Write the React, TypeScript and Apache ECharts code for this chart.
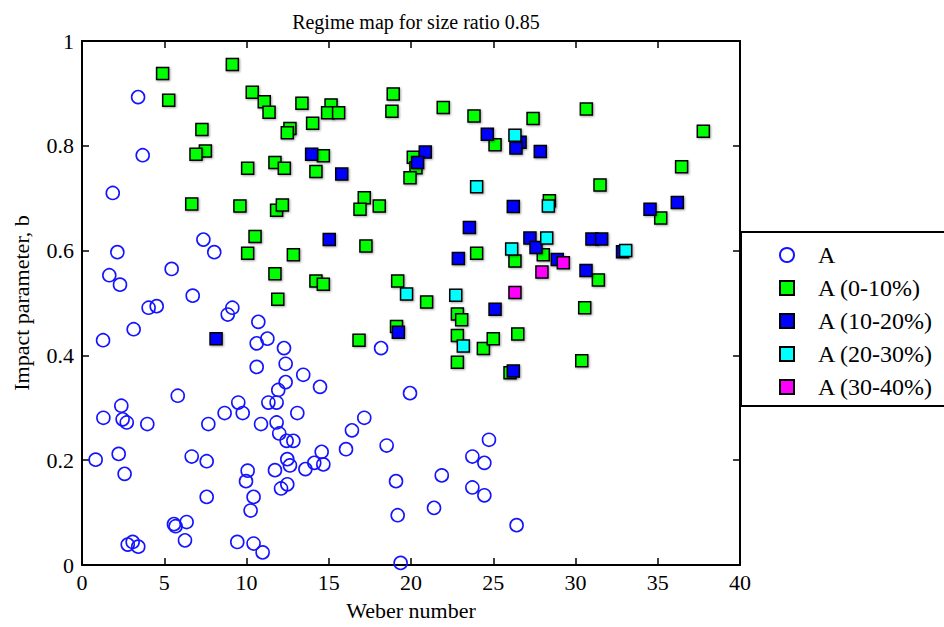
import React, { useEffect, useRef } from "react";
import * as echarts from "echarts";

const seriesNames = ["A", "A (0-10%)", "A (10-20%)", "A (20-30%)", "A (30-40%)"];
const xTicks = [0, 5, 10, 15, 20, 25, 30, 35, 40];
const yTicks = [0, 0.2, 0.4, 0.6, 0.8, 1];

const dataA: number[][] = [
  [3.41, 0.893], [3.69, 0.782], [1.87, 0.71], [2.15, 0.597], [7.38, 0.621], [8.04, 0.597],
  [1.66, 0.553], [2.31, 0.535], [5.45, 0.565], [6.73, 0.514], [4.05, 0.491], [4.54, 0.494],
  [9.14, 0.491], [8.86, 0.478], [3.14, 0.45], [1.28, 0.429], [10.72, 0.464], [11.27, 0.432],
  [10.62, 0.423], [12.28, 0.414], [10.62, 0.378], [12.38, 0.384], [12.38, 0.349], [13.45, 0.363],
  [14.47, 0.34], [19.94, 0.328], [13.09, 0.29], [17.16, 0.281], [16.41, 0.257], [16.05, 0.221],
  [18.52, 0.228], [14.57, 0.216], [14.12, 0.195], [14.67, 0.192], [13.58, 0.183], [19.09, 0.16],
  [19.19, 0.095], [21.4, 0.109], [21.87, 0.171], [23.73, 0.207], [24.46, 0.195], [24.74, 0.239],
  [23.73, 0.148], [24.46, 0.133], [19.37, 0.004], [26.42, 0.076], [18.18, 0.414], [5.82, 0.323],
  [2.39, 0.304], [1.3, 0.281], [2.47, 0.278], [2.72, 0.272], [3.97, 0.269], [7.68, 0.269],
  [8.67, 0.29], [9.5, 0.31], [9.77, 0.29], [10.88, 0.269], [11.33, 0.31], [11.83, 0.31],
  [11.93, 0.334], [11.83, 0.272], [11.99, 0.251], [12.44, 0.237], [12.85, 0.237], [0.83, 0.201],
  [2.23, 0.212], [2.59, 0.174], [6.67, 0.207], [7.58, 0.198], [7.58, 0.13], [5.59, 0.078],
  [5.69, 0.074], [6.36, 0.082], [6.26, 0.047], [2.78, 0.039], [3.08, 0.044], [3.42, 0.035],
  [10.07, 0.18], [9.97, 0.16], [10.43, 0.13], [10.25, 0.104], [9.44, 0.044], [10.43, 0.041],
  [10.98, 0.024], [11.73, 0.181], [12.48, 0.202], [12.64, 0.19], [12.48, 0.154], [12.1, 0.146],
];

const data0to10: number[][] = [
  [4.9, 0.938], [9.14, 0.955], [5.27, 0.887], [10.35, 0.902], [11.08, 0.884], [11.37, 0.864],
  [13.37, 0.881], [7.29, 0.831], [12.64, 0.833], [12.48, 0.825], [7.5, 0.79], [6.93, 0.784],
  [10.07, 0.757], [11.73, 0.768], [12.3, 0.757], [6.67, 0.689], [9.6, 0.685], [11.83, 0.677],
  [12.18, 0.687], [10.52, 0.627], [10.07, 0.595], [12.85, 0.592], [11.73, 0.556], [11.9, 0.507],
  [15.14, 0.878], [14.93, 0.863], [15.6, 0.863], [14.02, 0.843], [18.92, 0.899], [18.84, 0.866],
  [21.96, 0.873], [23.83, 0.857], [25.11, 0.802], [14.67, 0.781], [14.22, 0.751], [20.14, 0.778],
  [20.3, 0.758], [19.94, 0.739], [17.16, 0.701], [16.9, 0.679], [18.07, 0.685], [27.42, 0.852],
  [30.66, 0.87], [37.77, 0.828], [36.45, 0.76], [31.49, 0.725], [28.41, 0.695], [35.18, 0.662],
  [28.04, 0.592], [26.32, 0.58], [31.39, 0.544], [30.56, 0.491], [26.49, 0.441], [30.38, 0.39],
  [26.02, 0.367], [23.99, 0.595], [17.26, 0.609], [14.22, 0.542], [14.67, 0.536], [19.19, 0.542],
  [20.95, 0.502], [22.82, 0.479], [23.08, 0.468], [19.12, 0.455], [16.84, 0.429], [22.82, 0.438],
  [24.4, 0.413], [25.0, 0.432], [22.82, 0.387],
];

const data10to20: number[][] = [
  [8.15, 0.432], [24.64, 0.822], [13.96, 0.784], [15.79, 0.746], [20.87, 0.788], [20.4, 0.768],
  [26.63, 0.807], [26.38, 0.796], [27.86, 0.789], [36.19, 0.692], [34.53, 0.679], [26.22, 0.684],
  [27.23, 0.624], [27.6, 0.606], [28.89, 0.583], [31.0, 0.622], [31.59, 0.622], [32.86, 0.598],
  [30.64, 0.562], [26.22, 0.37], [23.55, 0.644], [22.88, 0.585], [15.03, 0.621], [25.11, 0.488],
  [19.23, 0.444],
];

const data20to30: number[][] = [
  [23.99, 0.722], [26.32, 0.82], [28.35, 0.685], [28.25, 0.624], [26.12, 0.603], [33.05, 0.6],
  [19.73, 0.517], [22.72, 0.515], [23.18, 0.418],
];

const data30to40: number[][] = [
  [29.26, 0.577], [27.96, 0.559], [26.32, 0.52],
];

const FONT = "'Liberation Serif', 'Times New Roman', serif";

export default function App() {
  const ref = useRef<HTMLDivElement>(null);
  useEffect(() => {
    if (!ref.current) return;
    const chart = echarts.init(ref.current, undefined, { renderer: "svg" });
    const sq = (name: string, color: string, data: number[][]) => ({
      name,
      type: "scatter",
      data,
      symbol: "rect",
      symbolSize: 12,
      xAxisIndex: 0,
      yAxisIndex: 0,
      itemStyle: {
        color,
        borderColor: "#000",
        borderWidth: 1.5,
        opacity: 1,
        shadowColor: "rgba(0,0,0,0.35)",
        shadowBlur: 2,
        shadowOffsetX: 1,
        shadowOffsetY: 1,
      },
      emphasis: { disabled: true },
    });
    const baseAxis = {
      axisLine: { show: true, onZero: false, lineStyle: { color: "#000", width: 2 } },
      axisTick: { show: true, inside: true, length: 7, lineStyle: { color: "#000", width: 1.5 } },
      splitLine: { show: false },
    };
    chart.setOption({
      animation: false,
      backgroundColor: "#fff",
      title: {
        text: "Regime map for size ratio 0.85",
        left: 411,
        top: 7,
        textAlign: "center",
        textStyle: { fontFamily: FONT, fontSize: 20, fontWeight: "normal", color: "#000" },
      },
      grid: { left: 82, right: 204, top: 41, bottom: 62 },
      graphic: [
        {
          type: "rect",
          shape: { x: 741, y: 232, width: 240, height: 174 },
          style: { fill: "#fff", stroke: "#000", lineWidth: 2 },
          z: 1,
        },
      ],
      legend: {
        orient: "vertical",
        left: 774,
        top: 238,
        itemWidth: 14,
        itemHeight: 14,
        itemGap: 9,
        data: seriesNames,
        z: 10,
        textStyle: { fontFamily: FONT, fontSize: 24, color: "#000", padding: [0, 0, 0, 19] },
      },
      xAxis: [
        {
          ...baseAxis,
          type: "value",
          min: 0,
          max: 40,
          interval: 5,
          position: "bottom",
          name: "Weber number",
          nameLocation: "middle",
          nameGap: 34,
          nameTextStyle: { fontFamily: FONT, fontSize: 22, color: "#000" },
          axisLabel: { fontFamily: FONT, fontSize: 22, color: "#000", margin: 6 },
        },
        {
          ...baseAxis,
          type: "value",
          min: 0,
          max: 40,
          interval: 5,
          position: "top",
          axisLabel: { show: false },
        },
      ],
      yAxis: [
        {
          ...baseAxis,
          type: "value",
          min: 0,
          max: 1,
          interval: 0.2,
          position: "left",
          name: "Impact parameter, b",
          nameLocation: "middle",
          nameGap: 50,
          nameTextStyle: { fontFamily: FONT, fontSize: 22, color: "#000" },
          axisLabel: {
            fontFamily: FONT,
            fontSize: 22,
            color: "#000",
            margin: 8,
            formatter: (v: number) => String(Math.round(v * 10) / 10),
          },
        },
        {
          ...baseAxis,
          type: "value",
          min: 0,
          max: 1,
          interval: 0.2,
          position: "right",
          axisLabel: { show: false },
        },
      ],
      series: [
        {
          name: seriesNames[0],
          type: "scatter",
          data: dataA,
          symbol: "circle",
          symbolSize: 13,
          xAxisIndex: 0,
          yAxisIndex: 0,
          itemStyle: { color: "rgba(0,0,0,0)", borderColor: "#1414ff", borderWidth: 1.6, opacity: 1 },
          emphasis: { disabled: true },
        },
        sq(seriesNames[1], "#00ff00", data0to10),
        sq(seriesNames[2], "#0000ff", data10to20),
        sq(seriesNames[3], "#00ffff", data20to30),
        sq(seriesNames[4], "#ff00ff", data30to40),
      ],
    });
    return () => chart.dispose();
  }, []);
  return <div ref={ref} style={{ width: 944, height: 627, position: "absolute", left: 0, top: 0 }} />;
}
